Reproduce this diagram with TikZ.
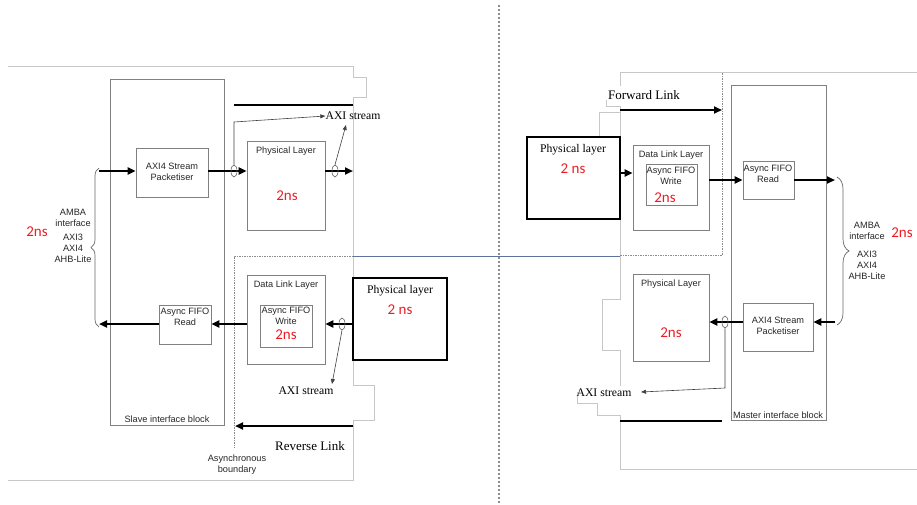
\documentclass[tikz,border=0pt]{standalone}
\usepackage{fontspec}
\setmainfont{Liberation Serif}
\newfontfamily\sansf{Liberation Sans}
\newfontfamily\calf{Carlito}
\usetikzlibrary{arrows.meta,shapes.geometric,decorations.pathreplacing}
\definecolor{rd}{RGB}{235,28,36}
\definecolor{bl}{RGB}{95,115,160}
\begin{document}
\begin{tikzpicture}[x=1pt,y=-1pt,
  gbox/.style={draw=black!50, line width=0.7pt, inner sep=0},
  bbox/.style={draw=black, line width=1.2pt, inner sep=0},
  st/.style={font=\sansf\fontsize{9.2}{11}\selectfont, text=black!85, inner sep=0, align=center},
  sr/.style={font=\fontsize{11.7}{14}\selectfont, inner sep=0},
  srb/.style={font=\fontsize{13}{15}\selectfont, inner sep=0},
  ns/.style={font=\calf\fontsize{15}{17}\selectfont, text=rd, inner sep=0},
  ell/.style={draw=black!60, line width=0.6pt, ellipse, minimum width=6pt, minimum height=12pt, inner sep=0},
  thk/.style={line width=2.2pt, -{Triangle[length=8pt,width=7pt]}},
  thkp/.style={line width=2.2pt},
  thn/.style={line width=0.6pt, draw=black!75, -{Triangle[length=5pt,width=4pt]}},
  frm/.style={draw=black!22, line width=0.7pt},
  dsh/.style={draw=black!45, line width=0.6pt, dash pattern=on 1.5pt off 1pt},
  brc/.style={draw=black!60, line width=0.7pt, decorate}
]
\useasboundingbox (0,0) rectangle (917,504);

% divider
\draw[draw=black!45, line width=1.2pt, dash pattern=on 2pt off 2pt] (499,5) -- (499,504);

% light frames (left)
\draw[frm] (8,66) -- (353,66) -- (353,77) -- (366,77) -- (366,97) -- (353,97) -- (353,385) -- (374,385) -- (374,420) -- (353,420) -- (353,480) -- (8,480);
% light frames (right)
\draw[frm] (917,72) -- (620,72) -- (620,86);
\draw[frm] (606,100) -- (606,106) -- (620,106) -- (620,299) -- (602,299) -- (602,350) -- (620,350) -- (620,386);
\draw[frm] (620,112) -- (599,112) -- (599,137);
\draw[frm] (577,392) -- (577,403) -- (597,403) -- (597,415) -- (620,415) -- (620,469) -- (917,469);

% asynchronous boundaries
\draw[dsh] (353,256) -- (234,256) -- (234,448);
\draw[dsh] (620,255) -- (722,255) -- (722,72);
\draw[draw=bl, line width=0.8pt] (353,256) -- (620,256);

% ---------- left side ----------
\node[gbox, minimum width=114pt, minimum height=346pt] (slave) at (167,252) {};
\node[gbox, minimum width=72pt, minimum height=49pt] (pkL) at (172,172.5) {};
\node[gbox, minimum width=78pt, minimum height=89pt] (phyL) at (286,185.5) {};
\node[gbox, minimum width=78pt, minimum height=89pt] (dllL) at (286,319.5) {};
\node[gbox, minimum width=52pt, minimum height=42pt] (fwL) at (286,326) {};
\node[gbox, minimum width=52pt, minimum height=39pt] (frL) at (185,324.5) {};
\node[bbox, minimum width=94pt, minimum height=82pt] (phsL) at (400,319) {};

\node[st] (tpkL) at (172,172) {AXI4 Stream\\Packetiser};
\node[st] (tphyL) at (286,151) {Physical Layer};
\node[ns] (nphyL) at (287,196) {2ns};
\node[st] (tdllL) at (286,285) {Data Link Layer};
\node[st] (tfwL) at (286,316) {Async FIFO\\Write};
\node[ns] (nfwL) at (286,335) {2ns};
\node[st] (tfrL) at (185,316.5) {Async FIFO\\Read};
\node[sr] (tphsL) at (400,291) {Physical layer};
\node[ns] (nphsL) at (400,310) {2 ns};
\node[st] (tslave) at (167,419) {Slave interface block};
\node[st] (tasync) at (237,464.5) {Asynchronous\\boundary};
\node[srb] (trev) at (310,446) {Reverse Link};
\node[sr] (axiTL) at (353,116) {AXI stream};
\node[sr] (axiBL) at (306,391) {AXI stream};
\node[st] (ambaL1) at (73,217.5) {AMBA\\interface};
\node[st] (ambaL2) at (73,248) {AXI3\\AXI4\\AHB-Lite};
\node[ns] (nambaL) at (37,232) {2ns};

\coordinate (bL1) at (99,171);
\coordinate (bL2) at (99,324);
\coordinate (eL1) at (353,171);
\coordinate (rL) at (353,324);
\coordinate (upA) at (234,122);
\coordinate (tipB) at (346,125);
\coordinate (tipC) at (332,384);
\coordinate (revS) at (353,426);
\coordinate (revE) at (235,426);

\draw[thkp] (234,105) -- (353,105);
\draw[thk] (bL1) -- (pkL.west |- bL1);
\draw[thk] (pkL.east |- bL1) -- (phyL.west |- bL1);
\draw[thk] (phyL.east |- bL1) -- (eL1);
\node[ell] (eA) at (234,171) {};
\node[ell] (eB) at (335,171) {};
\draw[thn] (eA.north) -- (upA) -- (axiTL.west);
\draw[thn] (eB.north) -- (tipB);

\draw[thk] (rL) -- (dllL.east |- rL);
\draw[thk] (dllL.west |- rL) -- (frL.east |- rL);
\draw[thk] (frL.west |- rL) -- (bL2);
\node[ell] (eC) at (342,324) {};
\draw[thn] (eC.south) -- (tipC);
\draw[thk] (revS) -- (revE);

\draw[brc, decoration={brace, amplitude=8pt}] (99,327) -- (99,168);

% ---------- right side ----------
\node[gbox, minimum width=95pt, minimum height=335pt] (master) at (778.5,252.5) {};
\node[bbox, minimum width=93pt, minimum height=82pt] (phsR) at (573.5,178) {};
\node[gbox, minimum width=76pt, minimum height=85pt] (dllR) at (671,187.5) {};
\node[gbox, minimum width=51pt, minimum height=41pt] (fwR) at (671.5,184.5) {};
\node[gbox, minimum width=51pt, minimum height=38pt] (frR) at (768.5,180) {};
\node[gbox, minimum width=70pt, minimum height=48pt] (pkR) at (778,327) {};
\node[gbox, minimum width=76pt, minimum height=87pt] (phyR) at (671,317.5) {};

\node[sr] (tphsR) at (573,150) {Physical layer};
\node[ns] (nphsR) at (573,169) {2 ns};
\node[st] (tdllR) at (671,155) {Data Link Layer};
\node[st] (tfwR) at (671,175.5) {Async FIFO\\Write};
\node[ns] (nfwR) at (665,198) {2ns};
\node[st] (tfrR) at (768,173.5) {Async FIFO\\Read};
\node[st] (tpkR) at (778,326) {AXI4 Stream\\Packetiser};
\node[st] (tphyR) at (671,284) {Physical Layer};
\node[ns] (nphyR) at (671,333) {2ns};
\node[st] (tmaster) at (778,415) {Master interface block};
\node[srb] (tfwd) at (644,95) {Forward Link};
\node[sr] (axiR) at (604,393) {AXI stream};
\node[st] (ambaR1) at (867,230.5) {AMBA\\interface};
\node[st] (ambaR2) at (867,265) {AXI3\\AXI4\\AHB-Lite};
\node[ns] (nambaR) at (902,233) {2ns};

\coordinate (yA) at (0,173);
\coordinate (yB) at (0,180);
\coordinate (bR1) at (835,180);
\coordinate (bR2) at (835,322);
\coordinate (dnD) at (725,388);
\coordinate (tipR) at (641,392);
\coordinate (fwS) at (620,110);
\coordinate (fwE) at (722,110);

\draw[thk] (fwS) -- (fwE);
\draw[thk] (phsR.east |- yA) -- (dllR.west |- yA);
\draw[thk] (dllR.east |- yB) -- (frR.west |- yB);
\draw[thk] (frR.east |- yB) -- (bR1);
\draw[thk] (bR2) -- (pkR.east |- bR2);
\draw[thk] (pkR.west |- bR2) -- (phyR.east |- bR2);
\node[ell] (eD) at (725,322) {};
\draw[thn] (eD.south) -- (dnD) -- (tipR);
\draw[thkp] (620,421) -- (722,421);

\draw[brc, decoration={brace, amplitude=12pt}] (837,177) -- (837,325);
\end{tikzpicture}
\end{document}
